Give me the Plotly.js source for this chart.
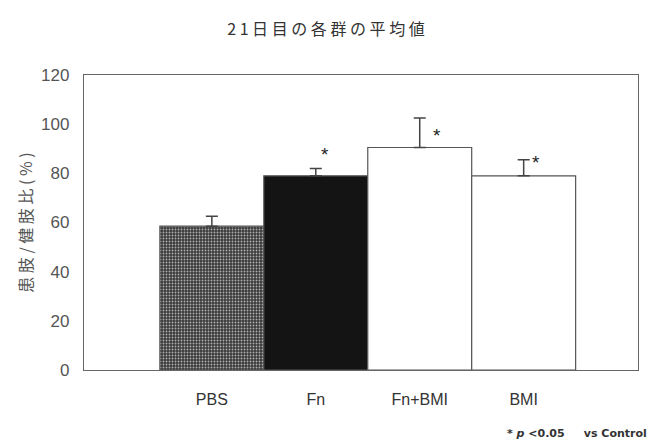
<!DOCTYPE html>
<html>
<head>
<meta charset="utf-8">
<script src="https://cdn.plot.ly/plotly-3.0.1.min.js"></script>
<style>html,body{margin:0;padding:0;background:#fff;}#chart{width:652px;height:440px;}</style>
</head>
<body>
<div id="chart"></div>
<script>
// Mean limb ratio per group on day 21
const groups = ["PBS", "Fn", "Fn+BMI", "BMI"];
const means = [58.5, 79, 90.5, 79];
const errUp = [4, 3, 12, 6.5];
const significant = [false, true, true, true];
const starLevel = [null, 87.5, 95.5, 84.5];

const barColors = ["#3a3a3a", "#141414", "#ffffff", "#ffffff"];
const patternShapes = [".", "", "", ""];

const trace = {
  type: "bar",
  x: groups,
  y: means,
  width: 1,
  marker: {
    color: barColors,
    line: {color: "#555", width: 1.2},
    pattern: {
      shape: patternShapes,
      fgcolor: "#8c8c8c",
      fgopacity: 0.6,
      size: 3,
      solidity: 0.3,
      fillmode: "overlay"
    }
  },
  error_y: {
    type: "data",
    symmetric: false,
    array: errUp,
    arrayminus: [0, 0, 0, 0],
    color: "#444",
    thickness: 1.5,
    width: 6
  },
  hoverinfo: "none"
};

// asterisks beside the error bars of groups that differ from control
const starShift = [0, 9, 17, 12];
const notes = [];
groups.forEach((g, i) => {
  if (!significant[i]) return;
  notes.push({
    x: g, y: starLevel[i],
    xref: "x", yref: "y",
    text: "*", showarrow: false,
    xshift: starShift[i], yanchor: "middle",
    font: {size: 19, color: "#222", family: "Liberation Sans, Arial, sans-serif"}
  });
});

notes.push({
  xref: "paper", yref: "paper", x: 1.02, y: -0.215,
  xanchor: "right", yanchor: "middle", showarrow: false,
  text: "<b>* <i>p</i> <0.05     vs Control</b>",
  font: {size: 11, color: "#333", family: "DejaVu Sans, sans-serif"}
});

const layout = {
  width: 652, height: 440,
  margin: {l: 84, r: 14, t: 75, b: 70},
  paper_bgcolor: "#fff", plot_bgcolor: "#fff",
  showlegend: false,
  bargap: 0,
  title: {
    text: "2 1 日 目 の 各 群 の 平 均 値",
    x: 0.5, xanchor: "center", y: 0.945,
    font: {family: "Noto Sans CJK JP, sans-serif", size: 16, color: "#333"}
  },
  xaxis: {
    type: "category",
    range: [-1.23, 4.1],
    showline: true, mirror: true, linecolor: "#666", linewidth: 1.2,
    ticks: "", ticklabelstandoff: 15,
    showgrid: false, zeroline: false,
    tickfont: {family: "Liberation Sans, Arial, sans-serif", size: 16, color: "#333"}
  },
  yaxis: {
    range: [0, 120],
    tickvals: [0, 20, 40, 60, 80, 100, 120],
    showline: true, mirror: true, linecolor: "#666", linewidth: 1.2,
    ticks: "", showgrid: false, zeroline: false,
    ticklabelstandoff: 10,
    tickfont: {family: "Liberation Sans, Arial, sans-serif", size: 17, color: "#555"},
    title: {
      text: "患 肢 / 健 肢 比 ( % )",
      standoff: 4,
      font: {family: "Noto Sans CJK JP, sans-serif", size: 16, color: "#555"}
    }
  },
  annotations: notes
};

Plotly.newPlot("chart", [trace], layout, {displayModeBar: false, staticPlot: true});
</script>
</body>
</html>
